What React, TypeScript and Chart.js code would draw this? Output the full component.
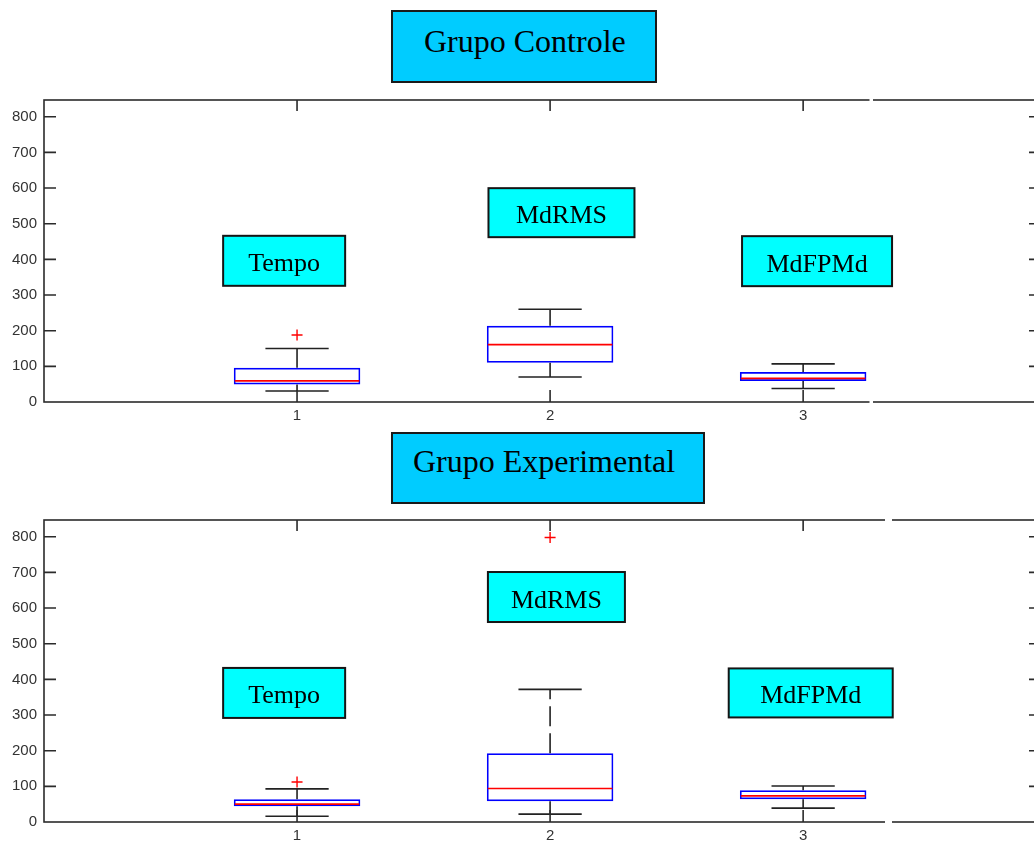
import React, { useEffect, useRef } from "react";
import { Chart, registerables } from "chart.js";

Chart.register(...registerables);

// ---------- data ----------
const categories = [1, 2, 3];
const yTicks = [0, 100, 200, 300, 400, 500, 600, 700, 800];
const measureNames = ["Tempo", "MdRMS", "MdFPMd"];

// Grupo Controle
const ctrlLowerWhisker = [31, 70, 38];
const ctrlQ1 = [49, 110, 59];
const ctrlMedian = [59, 161, 66];
const ctrlQ3 = [96, 214, 84];
const ctrlUpperWhisker = [150, 260, 107];
const ctrlOutliers = [[188], [], []];

// Grupo Experimental
const expLowerWhisker = [16, 22, 39];
const expQ1 = [44, 58, 64];
const expMedian = [50, 94, 73];
const expQ3 = [64, 193, 89];
const expUpperWhisker = [93, 372, 101];
const expOutliers = [[112], [798], []];

// ---------- annotation placement (data units) ----------
const ctrlLabelPos = [
  { x: 0.949, y: 396, w: 122, h: 50 },
  { x: 2.045, y: 531, w: 146, h: 49 },
  { x: 3.055, y: 395, w: 150, h: 50 },
];
const expLabelPos = [
  { x: 0.949, y: 362, w: 122, h: 50 },
  { x: 2.025, y: 631, w: 137, h: 50 },
  { x: 3.03, y: 362, w: 164, h: 49 },
];

const Y_MAX = 847;
const X_MAX = 3.94;
const AXIS_COLOR = "#2b2b2b";
const SERIF = '"Liberation Serif", "Times New Roman", serif';
const SANS = '"Liberation Sans", Arial, sans-serif';

type Stats = {
  lo: number[];
  q1: number[];
  med: number[];
  q3: number[];
  hi: number[];
  out: number[][];
};

function makePlugin(stats: Stats, labelPos: any[], gapFrom: number, gapTo: number) {
  return {
    id: "boxExtras",
    afterDatasetsDraw(chart: any) {
      const { ctx, scales } = chart;
      const xs = scales.x;
      const ys = scales.y;
      ctx.save();
      categories.forEach((c, i) => {
        const cx = xs.getPixelForValue(c);
        const bx0 = xs.getPixelForValue(c - 0.25);
        const bx1 = xs.getPixelForValue(c + 0.25);
        const cap0 = xs.getPixelForValue(c - 0.125);
        const cap1 = xs.getPixelForValue(c + 0.125);
        // whiskers
        ctx.strokeStyle = "#222";
        ctx.lineWidth = 1.6;
        ctx.setLineDash([20, 7]);
        ctx.beginPath();
        ctx.moveTo(cx, ys.getPixelForValue(stats.q3[i]));
        ctx.lineTo(cx, ys.getPixelForValue(stats.hi[i]));
        ctx.stroke();
        ctx.beginPath();
        ctx.moveTo(cx, ys.getPixelForValue(stats.q1[i]));
        ctx.lineTo(cx, ys.getPixelForValue(stats.lo[i]));
        ctx.stroke();
        ctx.setLineDash([]);
        ctx.beginPath();
        const yh = ys.getPixelForValue(stats.hi[i]);
        const yl = ys.getPixelForValue(stats.lo[i]);
        ctx.moveTo(cap0, yh);
        ctx.lineTo(cap1, yh);
        ctx.moveTo(cap0, yl);
        ctx.lineTo(cap1, yl);
        ctx.stroke();
        // median
        ctx.strokeStyle = "#ff0000";
        ctx.lineWidth = 1.7;
        const ym = ys.getPixelForValue(stats.med[i]);
        ctx.beginPath();
        ctx.moveTo(bx0 + 1, ym);
        ctx.lineTo(bx1 - 1, ym);
        ctx.stroke();
      });
      ctx.restore();
    },
    afterDraw(chart: any) {
      const { ctx, chartArea, scales } = chart;
      const xs = scales.x;
      const ys = scales.y;
      const { left, right, top, bottom } = chartArea;
      ctx.save();
      ctx.strokeStyle = AXIS_COLOR;
      ctx.lineWidth = 1.6;
      ctx.strokeRect(left, top, right - left, bottom - top);
      ctx.beginPath();
      categories.forEach((c) => {
        const px = xs.getPixelForValue(c);
        ctx.moveTo(px, bottom);
        ctx.lineTo(px, bottom - 12);
        ctx.moveTo(px, top);
        ctx.lineTo(px, top + 11);
      });
      yTicks.forEach((v) => {
        if (v === 0) return;
        const py = ys.getPixelForValue(v);
        ctx.moveTo(left, py);
        ctx.lineTo(left + 12, py);
        ctx.moveTo(right, py);
        ctx.lineTo(right - 12, py);
      });
      ctx.stroke();
      // break in the frame
      ctx.fillStyle = "#ffffff";
      ctx.fillRect(gapFrom, top - 2, gapTo - gapFrom, 4);
      ctx.fillRect(gapFrom, bottom - 2, gapTo - gapFrom, 4);
      // label boxes
      labelPos.forEach((p, i) => {
        const cx = xs.getPixelForValue(p.x);
        const cy = ys.getPixelForValue(p.y);
        ctx.fillStyle = "#00ffff";
        ctx.fillRect(cx - p.w / 2, cy - p.h / 2, p.w, p.h);
        ctx.strokeStyle = "#151515";
        ctx.lineWidth = 2;
        ctx.strokeRect(cx - p.w / 2, cy - p.h / 2, p.w, p.h);
        ctx.fillStyle = "#000";
        ctx.font = `26px ${SERIF}`;
        ctx.textAlign = "center";
        ctx.textBaseline = "alphabetic";
        ctx.fillText(measureNames[i], cx, cy + 10.5);
      });
      ctx.restore();
    },
  };
}

function BoxChart(props: {
  top: number;
  height: number;
  xAxisHeight: number;
  stats: Stats;
  labelPos: any[];
  gapFrom: number;
  gapTo: number;
}) {
  const ref = useRef<HTMLCanvasElement>(null);
  const { stats } = props;
  useEffect(() => {
    const boxData = categories.map((c, i) => ({ x: c, y: [stats.q1[i], stats.q3[i]] }));
    const outData: { x: number; y: number }[] = [];
    categories.forEach((c, i) => stats.out[i].forEach((v) => outData.push({ x: c, y: v })));
    const chart = new Chart(ref.current as HTMLCanvasElement, {
      type: "bar",
      data: {
        datasets: [
          {
            type: "bar",
            data: boxData as any,
            backgroundColor: "rgba(0,0,0,0)",
            borderColor: "#0000ff",
            borderWidth: 1.7,
            borderSkipped: false,
            categoryPercentage: 1,
            barPercentage: 0.5,
          } as any,
          {
            type: "scatter",
            data: outData,
            pointStyle: "cross",
            pointRadius: 5.5,
            borderColor: "#ff0000",
            backgroundColor: "#ff0000",
            borderWidth: 1.4,
          } as any,
        ],
      },
      options: {
        responsive: false,
        animation: false,
        events: [],
        layout: { autoPadding: false, padding: { top: 10, left: 0, right: 0, bottom: 0 } },
        plugins: { legend: { display: false }, tooltip: { enabled: false }, title: { display: false } },
        scales: {
          x: {
            type: "linear",
            min: 0,
            max: X_MAX,
            offset: false,
            grid: { display: false, drawTicks: false },
            border: { display: false },
            afterBuildTicks: (scale: any) => {
              scale.ticks = categories.map((v) => ({ value: v }));
            },
            afterFit: (scale: any) => {
              scale.height = props.xAxisHeight;
              scale.paddingLeft = 0;
              scale.paddingRight = 0;
              scale.paddingTop = 0;
              scale.paddingBottom = 0;
            },
            ticks: {
              padding: 5,
              color: "#333",
              font: { family: SANS, size: 15 },
              maxRotation: 0,
              callback: (v: any) => String(v),
            },
          },
          y: {
            type: "linear",
            min: 0,
            max: Y_MAX,
            grid: { display: false, drawTicks: false },
            border: { display: false },
            afterBuildTicks: (scale: any) => {
              scale.ticks = yTicks.map((v) => ({ value: v }));
            },
            afterFit: (scale: any) => {
              scale.width = 44;
              scale.paddingTop = 0;
              scale.paddingBottom = 0;
              scale.paddingLeft = 0;
              scale.paddingRight = 0;
            },
            ticks: {
              padding: 7,
              color: "#333",
              font: { family: SANS, size: 15 },
              callback: (v: any) => String(v),
            },
          },
        },
      } as any,
      plugins: [makePlugin(stats, props.labelPos, props.gapFrom, props.gapTo)],
    });
    return () => chart.destroy();
  }, []);
  return (
    <div style={{ position: "absolute", left: 0, top: props.top, width: 1041, height: props.height }}>
      <canvas ref={ref} width={1041} height={props.height} style={{ display: "block" }} />
    </div>
  );
}

function TitleBox(props: { text: string; left: number; top: number; width: number; height: number; textLeft: number; textTop: number }) {
  return (
    <div
      style={{
        position: "absolute",
        left: props.left,
        top: props.top,
        width: props.width,
        height: props.height,
        boxSizing: "border-box",
        border: "2px solid #1a1a1a",
        background: "#00ccff",
      }}
    >
      <div
        style={{
          position: "absolute",
          left: props.textLeft,
          top: props.textTop,
          fontFamily: SERIF,
          fontSize: 32,
          lineHeight: "32px",
          color: "#000",
          whiteSpace: "nowrap",
        }}
      >
        {props.text}
      </div>
    </div>
  );
}

export default function App() {
  const ctrlStats: Stats = {
    lo: ctrlLowerWhisker,
    q1: ctrlQ1,
    med: ctrlMedian,
    q3: ctrlQ3,
    hi: ctrlUpperWhisker,
    out: ctrlOutliers,
  };
  const expStats: Stats = {
    lo: expLowerWhisker,
    q1: expQ1,
    med: expMedian,
    q3: expQ3,
    hi: expUpperWhisker,
    out: expOutliers,
  };
  return (
    <div
      style={{
        position: "absolute",
        left: 0,
        top: 0,
        width: 1034,
        height: 843,
        overflow: "hidden",
        background: "#ffffff",
      }}
    >
      <BoxChart top={90} height={340} xAxisHeight={28} stats={ctrlStats} labelPos={ctrlLabelPos} gapFrom={869.5} gapTo={873} />
      <BoxChart top={510} height={333} xAxisHeight={21} stats={expStats} labelPos={expLabelPos} gapFrom={885} gapTo={892} />
      <TitleBox text="Grupo Controle" left={391} top={10} width={266} height={73} textLeft={31} textTop={13} />
      <TitleBox text="Grupo Experimental" left={391} top={432} width={314} height={72} textLeft={20} textTop={11} />
    </div>
  );
}
